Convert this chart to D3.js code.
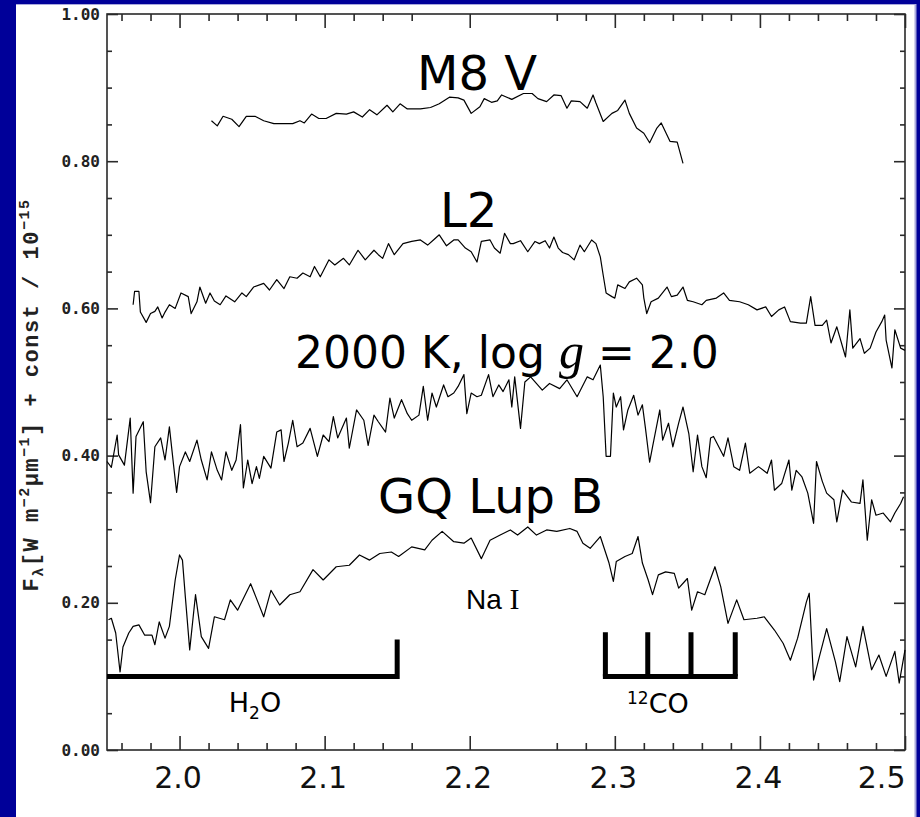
<!DOCTYPE html>
<html><head><meta charset="utf-8">
<script src="https://cdn.jsdelivr.net/npm/d3@7"></script>
<style>html,body{margin:0;padding:0;background:#000099;} svg{display:block}</style>
</head><body>
<svg id="chart" width="920" height="817"></svg>
<script>
// ---------------- DATA ----------------
const m8Wave = [2.022,2.026,2.030,2.036,2.041,2.046,2.052,2.058,2.065,2.074,
 2.078,2.083,2.086,2.091,2.096,2.101,2.108,2.115,2.120,2.126,
 2.131,2.136,2.143,2.147,2.152,2.157,2.166,2.173,2.179,2.186,
 2.192,2.196,2.201,2.207,2.210,2.215,2.219,2.222,2.229,2.237,
 2.243,2.247,2.253,2.258,2.263,2.267,2.270,2.276,2.281,2.285,
 2.287,2.292,2.298,2.302,2.307,2.310,2.315,2.320,2.324,2.329,
 2.332,2.338,2.343,2.347];
const m8Flux = [0.855,0.848,0.861,0.857,0.847,0.861,0.861,0.855,0.851,0.851,
 0.851,0.855,0.852,0.864,0.858,0.858,0.865,0.864,0.867,0.860,
 0.870,0.863,0.876,0.867,0.878,0.871,0.871,0.873,0.878,0.887,
 0.886,0.883,0.865,0.874,0.885,0.880,0.882,0.890,0.884,0.892,
 0.892,0.885,0.881,0.890,0.889,0.872,0.882,0.881,0.872,0.890,
 0.879,0.854,0.865,0.869,0.883,0.865,0.845,0.838,0.825,0.845,
 0.852,0.827,0.826,0.797];

const l2Wave = [1.968,1.969,1.972,1.973,1.977,1.980,1.983,1.985,1.988,1.990,
 1.993,1.997,2.001,2.006,2.008,2.012,2.014,2.018,2.021,2.024,
 2.028,2.032,2.038,2.043,2.046,2.051,2.058,2.062,2.067,2.072,
 2.076,2.081,2.085,2.090,2.093,2.097,2.103,2.107,2.113,2.117,
 2.123,2.128,2.134,2.137,2.140,2.144,2.148,2.154,2.160,2.166,
 2.171,2.175,2.179,2.184,2.189,2.192,2.197,2.201,2.205,2.208,
 2.214,2.217,2.221,2.224,2.228,2.230,2.235,2.240,2.245,2.248,
 2.252,2.255,2.258,2.261,2.264,2.268,2.272,2.276,2.279,2.284,
 2.287,2.290,2.292,2.294,2.298,2.300,2.302,2.307,2.310,2.315,
 2.319,2.320,2.322,2.325,2.330,2.336,2.339,2.343,2.347,2.350,
 2.354,2.360,2.363,2.370,2.375,2.379,2.386,2.392,2.398,2.404,
 2.408,2.413,2.417,2.421,2.428,2.432,2.435,2.438,2.443,2.446,
 2.449,2.453,2.459,2.462,2.464,2.469,2.472,2.476,2.480,2.484,
 2.486,2.487,2.491,2.493,2.497,2.500];
const l2Flux = [0.605,0.623,0.623,0.595,0.581,0.593,0.596,0.602,0.587,0.595,
 0.605,0.600,0.621,0.616,0.593,0.609,0.629,0.607,0.621,0.610,
 0.605,0.617,0.609,0.621,0.616,0.629,0.634,0.625,0.639,0.627,
 0.643,0.641,0.648,0.643,0.657,0.643,0.666,0.659,0.668,0.659,
 0.679,0.666,0.679,0.673,0.668,0.688,0.673,0.688,0.691,0.693,
 0.686,0.693,0.700,0.685,0.693,0.693,0.682,0.677,0.663,0.691,
 0.693,0.682,0.675,0.702,0.688,0.688,0.692,0.677,0.691,0.688,
 0.692,0.682,0.697,0.682,0.676,0.673,0.666,0.686,0.677,0.693,
 0.688,0.670,0.645,0.621,0.616,0.614,0.632,0.627,0.636,0.641,
 0.632,0.614,0.593,0.609,0.614,0.629,0.616,0.618,0.629,0.611,
 0.609,0.605,0.611,0.614,0.621,0.611,0.609,0.605,0.598,0.602,
 0.589,0.598,0.602,0.582,0.580,0.580,0.616,0.577,0.577,0.584,
 0.553,0.575,0.534,0.598,0.546,0.559,0.539,0.546,0.568,0.582,
 0.591,0.557,0.519,0.571,0.546,0.543];

const modelWave = [1.950,1.953,1.957,1.958,1.962,1.966,1.968,1.970,1.975,1.977,
 1.980,1.983,1.987,1.990,1.993,1.996,1.998,2.000,2.004,2.007,
 2.012,2.015,2.019,2.022,2.026,2.029,2.032,2.036,2.039,2.042,
 2.044,2.047,2.050,2.053,2.055,2.058,2.063,2.067,2.070,2.072,
 2.075,2.078,2.081,2.085,2.090,2.095,2.099,2.103,2.106,2.109,
 2.115,2.117,2.122,2.127,2.130,2.134,2.137,2.142,2.145,2.148,
 2.153,2.157,2.160,2.165,2.168,2.171,2.174,2.177,2.182,2.185,
 2.189,2.192,2.196,2.198,2.201,2.205,2.208,2.213,2.216,2.220,
 2.223,2.227,2.229,2.231,2.235,2.238,2.242,2.250,2.255,2.262,
 2.267,2.274,2.281,2.285,2.290,2.292,2.294,2.297,2.299,2.301,
 2.304,2.306,2.309,2.313,2.316,2.319,2.321,2.324,2.326,2.331,
 2.333,2.337,2.340,2.344,2.347,2.351,2.354,2.357,2.360,2.363,
 2.366,2.368,2.375,2.378,2.382,2.386,2.390,2.393,2.399,2.405,
 2.408,2.410,2.415,2.420,2.422,2.425,2.429,2.433,2.437,2.439,
 2.443,2.446,2.451,2.453,2.457,2.463,2.469,2.471,2.474,2.477,
 2.480,2.485,2.490,2.493,2.497,2.499];
const modelFlux = [0.392,0.384,0.428,0.401,0.387,0.451,0.349,0.426,0.446,0.378,
 0.336,0.412,0.424,0.394,0.439,0.385,0.350,0.385,0.405,0.392,
 0.421,0.394,0.367,0.405,0.380,0.367,0.405,0.380,0.394,0.442,
 0.356,0.394,0.362,0.385,0.369,0.399,0.383,0.432,0.435,0.392,
 0.417,0.448,0.412,0.417,0.437,0.399,0.428,0.419,0.453,0.424,
 0.451,0.410,0.462,0.448,0.414,0.455,0.446,0.432,0.478,0.451,
 0.476,0.457,0.448,0.455,0.494,0.448,0.485,0.466,0.496,0.480,
 0.485,0.494,0.510,0.457,0.485,0.480,0.482,0.510,0.480,0.496,
 0.487,0.503,0.466,0.507,0.437,0.500,0.507,0.489,0.498,0.491,
 0.503,0.480,0.507,0.503,0.523,0.480,0.399,0.399,0.485,0.466,
 0.480,0.435,0.462,0.482,0.455,0.469,0.439,0.391,0.412,0.462,
 0.421,0.444,0.412,0.444,0.466,0.430,0.378,0.428,0.385,0.370,
 0.424,0.426,0.399,0.424,0.385,0.380,0.417,0.376,0.385,0.376,
 0.394,0.353,0.362,0.394,0.353,0.380,0.371,0.349,0.308,0.392,
 0.365,0.349,0.340,0.310,0.353,0.337,0.335,0.367,0.285,0.340,
 0.319,0.322,0.310,0.322,0.335,0.344];

const gqWave = [1.951,1.953,1.956,1.959,1.961,1.965,1.968,1.972,1.976,1.981,
 1.983,1.986,1.990,1.993,1.997,2.000,2.002,2.004,2.007,2.011,
 2.015,2.020,2.024,2.031,2.035,2.040,2.049,2.053,2.058,2.063,
 2.069,2.076,2.083,2.092,2.099,2.108,2.117,2.124,2.131,2.138,
 2.146,2.151,2.160,2.169,2.174,2.181,2.189,2.196,2.201,2.208,
 2.214,2.221,2.228,2.233,2.240,2.246,2.253,2.260,2.269,2.274,
 2.278,2.283,2.290,2.296,2.299,2.301,2.307,2.312,2.316,2.319,
 2.323,2.326,2.330,2.335,2.341,2.344,2.350,2.353,2.357,2.362,
 2.369,2.373,2.378,2.384,2.389,2.398,2.403,2.410,2.416,2.421,
 2.426,2.432,2.434,2.437,2.441,2.446,2.452,2.455,2.460,2.466,
 2.471,2.477,2.482,2.487,2.493,2.496,2.500];
const gqFlux = [0.177,0.179,0.159,0.106,0.140,0.159,0.168,0.170,0.156,0.156,
 0.143,0.174,0.152,0.168,0.231,0.265,0.258,0.208,0.136,0.211,
 0.154,0.138,0.181,0.177,0.204,0.190,0.226,0.206,0.181,0.217,
 0.197,0.211,0.215,0.245,0.231,0.249,0.251,0.265,0.258,0.267,
 0.269,0.263,0.276,0.272,0.285,0.297,0.283,0.281,0.288,0.260,
 0.285,0.292,0.299,0.292,0.303,0.292,0.299,0.297,0.301,0.297,
 0.281,0.274,0.290,0.254,0.229,0.256,0.263,0.267,0.290,0.254,
 0.231,0.211,0.238,0.242,0.240,0.220,0.233,0.190,0.215,0.211,
 0.249,0.222,0.172,0.204,0.177,0.179,0.181,0.163,0.145,0.122,
 0.152,0.201,0.213,0.095,0.127,0.165,0.120,0.093,0.154,0.113,
 0.168,0.109,0.129,0.100,0.134,0.091,0.136];

const xMajor = [2.0, 2.1, 2.2, 2.3, 2.4, 2.5];
const xTickLabels = ["2.0", "2.1", "2.2", "2.3", "2.4", "2.5"];
const xMinor = [1.96,1.98,2.02,2.04,2.06,2.08,2.12,2.14,2.16,2.26,2.28,2.32,2.34,2.36,2.38,2.42,2.44,2.46,2.48];
const yMajor = [0.0, 0.2, 0.4, 0.6, 0.8, 1.0];
const yTickLabels = ["0.00", "0.20", "0.40", "0.60", "0.80", "1.00"];
const yMinor = [0.05,0.10,0.15,0.25,0.30,0.35,0.45,0.50,0.55,0.65,0.70,0.75,0.85,0.90,0.95];

const h2oBand = [1.95, 2.15];     // H2O absorption range
const coBandheads = [2.2935, 2.3227, 2.3525, 2.3830]; // 12CO bandheads
const bandLevel = 0.10, h2oTop = 0.15, coTop = 0.16;

// ---------------- CHART ----------------
const W = 920, H = 817;
const svg = d3.select("#chart");
svg.append("rect").attr("width", W).attr("height", H).attr("fill", "#000099");
svg.append("rect").attr("x", 16).attr("y", 4).attr("width", 899).attr("height", H - 4).attr("fill", "#ffffff");
svg.append("line").attr("x1", 915.5).attr("x2", 915.5).attr("y1", 4).attr("y2", H)
  .attr("stroke", "#a9a9dd").attr("stroke-width", 2);
svg.append("line").attr("x1", 16).attr("x2", 916).attr("y1", 4.5).attr("y2", 4.5)
  .attr("stroke", "#a9a9dd").attr("stroke-width", 1);

const x = d3.scaleLinear().domain([1.95, 2.50]).range([107, 905]);
const y = d3.scaleLinear().domain([0, 1]).range([750, 14]);

const axisColor = "#2a2a2a";
function styleAxis(g) {
  g.select(".domain").remove();
  g.selectAll(".tick line").attr("stroke", axisColor).attr("stroke-width", 1.6);
}

// bottom axis
svg.append("g").attr("transform", `translate(0,${y(0)})`)
  .call(d3.axisBottom(x).tickValues(xMajor).tickSize(-14).tickFormat((d, i) => xTickLabels[i]))
  .call(styleAxis)
  .call(g => g.selectAll(".tick text")
    .attr("y", 38).attr("dy", null).attr("dx", -2)
    .attr("fill", "#111")
    .style("font-family", "'DejaVu Sans', Verdana, sans-serif").style("font-size", "30px")
    .filter((d, i) => i === xMajor.length - 1).attr("text-anchor", "end").attr("dx", 0));
svg.append("g").attr("transform", `translate(0,${y(0)})`)
  .call(d3.axisBottom(x).tickValues(xMinor).tickSize(-7).tickFormat(""))
  .call(styleAxis);
// top axis
svg.append("g").attr("transform", `translate(0,${y(1)})`)
  .call(d3.axisTop(x).tickValues(xMajor).tickSize(-14).tickFormat(""))
  .call(styleAxis);
svg.append("g").attr("transform", `translate(0,${y(1)})`)
  .call(d3.axisTop(x).tickValues(xMinor).tickSize(-7).tickFormat(""))
  .call(styleAxis);
// left axis
svg.append("g").attr("transform", `translate(${x(1.95)},0)`)
  .call(d3.axisLeft(y).tickValues(yMajor).tickSize(-11).tickPadding(7).tickFormat((d, i) => yTickLabels[i]))
  .call(styleAxis)
  .call(g => g.selectAll(".tick text").attr("fill", "#222")
    .style("font-family", "'DejaVu Sans Mono', monospace").style("font-size", "16px").style("font-weight", "bold"));
svg.append("g").attr("transform", `translate(${x(1.95)},0)`)
  .call(d3.axisLeft(y).tickValues(yMinor).tickSize(-5).tickFormat(""))
  .call(styleAxis);
// right axis
svg.append("g").attr("transform", `translate(${x(2.50)},0)`)
  .call(d3.axisRight(y).tickValues(yMajor).tickSize(-11).tickFormat(""))
  .call(styleAxis);
svg.append("g").attr("transform", `translate(${x(2.50)},0)`)
  .call(d3.axisRight(y).tickValues(yMinor).tickSize(-5).tickFormat(""))
  .call(styleAxis);
// frame
svg.append("rect").attr("x", x(1.95)).attr("y", y(1)).attr("width", x(2.5) - x(1.95)).attr("height", y(0) - y(1))
  .attr("fill", "none").attr("stroke", axisColor).attr("stroke-width", 1.6);

// y axis title
const yt = svg.append("text").attr("transform", "translate(38,395) rotate(-90)")
  .attr("text-anchor", "middle").attr("fill", "#222")
  .style("font-family", "'Liberation Mono', monospace").style("font-size", "22px").style("font-weight", "bold")
  .style("letter-spacing", "1.5px");
yt.append("tspan").text("F");
yt.append("tspan").attr("dy", 5).style("font-size", "15px").text("λ");
yt.append("tspan").attr("dy", -5).text("[W m");
yt.append("tspan").attr("dy", -9).style("font-size", "15px").text("−2");
yt.append("tspan").attr("dy", 9).text("μm");
yt.append("tspan").attr("dy", -9).style("font-size", "15px").text("−1");
yt.append("tspan").attr("dy", 9).text("] + const / 10");
yt.append("tspan").attr("dy", -9).style("font-size", "15px").text("−15");

// spectra
const line = d3.line().x(d => x(d[0])).y(d => y(d[1]));
const spectra = [
  d3.zip(m8Wave, m8Flux),
  d3.zip(l2Wave, l2Flux),
  d3.zip(modelWave, modelFlux),
  d3.zip(gqWave, gqFlux)
];
svg.append("g").selectAll("path").data(spectra).join("path")
  .attr("d", line).attr("fill", "none").attr("stroke", "#000")
  .attr("stroke-width", 1.2).attr("stroke-linejoin", "round");

// band markers
const bands = svg.append("g").attr("stroke", "#000").attr("stroke-width", 5).attr("fill", "none");
bands.append("path").attr("d", line([[h2oBand[0], bandLevel], [h2oBand[1], bandLevel], [h2oBand[1], h2oTop]]))
  .attr("stroke-linejoin", "miter");
bands.append("path").attr("d", line([[coBandheads[0], bandLevel], [coBandheads[3], bandLevel]]))
  .attr("stroke-linecap", "square");
bands.selectAll(".co").data(coBandheads).join("path").attr("class", "co")
  .attr("d", d => line([[d, bandLevel], [d, coTop]]));

// labels
const sans = "'DejaVu Sans', Verdana, sans-serif";
function label(txt, wx, wy, size) {
  return svg.append("text").attr("x", x(wx)).attr("y", y(wy)).attr("fill", "#000")
    .style("font-family", sans).style("font-size", size + "px").text(txt);
}
label("M8 V", 2.1637, 0.897, 48);
label("L2", 2.1795, 0.7106, 48);
const tk = label("2000 K, log ", 2.0796, 0.519, 44);
tk.append("tspan").style("font-family", "'Liberation Serif', serif").style("font-style", "italic").style("font-size", "50px").text("g");
tk.append("tspan").text(" = 2.0");
label("GQ Lup B", 2.1368, 0.322, 48);

const na = svg.append("text").attr("x", x(2.1974)).attr("y", y(0.1916)).attr("fill", "#000")
  .style("font-family", "'Liberation Sans', Arial, sans-serif").style("font-size", "28px").text("Na ");
na.append("tspan").style("font-family", "'Liberation Serif', serif").style("font-size", "30px").text("I");

const h2o = svg.append("text").attr("x", x(2.052)).attr("y", y(0.0516)).attr("text-anchor", "middle")
  .attr("fill", "#000").style("font-family", sans).style("font-size", "27px").text("H");
h2o.append("tspan").attr("dy", 7).style("font-size", "17px").text("2");
h2o.append("tspan").attr("dy", -7).text("O");

const co = svg.append("text").attr("x", x(2.3084)).attr("y", y(0.0503))
  .attr("fill", "#000").style("font-family", sans).style("font-size", "27px");
co.append("tspan").attr("dy", -9).style("font-size", "17px").text("12");
co.append("tspan").attr("dy", 9).text("CO");
</script>
</body></html>
